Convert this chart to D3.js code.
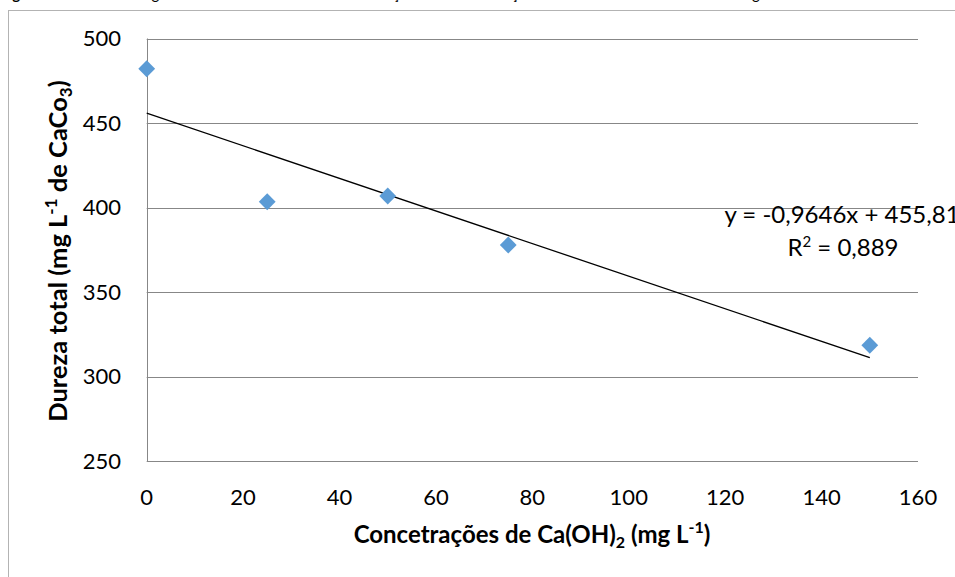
<!DOCTYPE html>
<html>
<head>
<meta charset="utf-8">
<script src="https://cdn.jsdelivr.net/npm/d3@7"></script>
<style>
  body { margin: 0; background: #fff; }
  svg { display: block; font-family: Lato, "Open Sans", sans-serif; }
</style>
</head>
<body>
<script>
// Width and height
var w = 955;
var h = 577;

// Data
var concentrations = [0, 25, 50, 75, 150];
var hardness = [482.1, 403.4, 406.8, 377.8, 318.5];
var xTicks = [0, 20, 40, 60, 80, 100, 120, 140, 160];
var yTicks = [250, 300, 350, 400, 450, 500];
var slope = -0.9646;
var intercept = 455.81;
var trendRange = [0, 150];

var svg = d3.select("body")
    .append("svg")
    .attr("width", w)
    .attr("height", h);

// caption cut off at the top of the page
svg.append("text")
    .attr("x", 0)
    .attr("y", -1)
    .style("font-size", "15px")
    .html("<tspan font-weight='bold'>Figura 6</tspan> - Análise de regressão linear da dureza total em função das concentrações de cal hidratada adicionadas à água");

// outer chart frame
svg.append("rect")
    .attr("x", 8.5)
    .attr("y", 10.5)
    .attr("width", 1000)
    .attr("height", 700)
    .style("fill", "none")
    .style("stroke", "#b3b3b3");

// scales
var x = d3.scaleLinear().domain([0, 160]).range([146.7, 918]);
var y = d3.scaleLinear().domain([250, 500]).range([461, 38.5]);

// horizontal gridlines
svg.append("g")
    .selectAll("line")
    .data(yTicks)
    .enter()
    .append("line")
    .attr("x1", x(0))
    .attr("x2", x(160))
    .attr("y1", function (d) { return Math.round(y(d)) + 0.5; })
    .attr("y2", function (d) { return Math.round(y(d)) + 0.5; })
    .style("stroke", "#878787")
    .style("stroke-width", 1);

// vertical axis line
svg.append("line")
    .attr("x1", Math.round(x(0)) + 0.5)
    .attr("x2", Math.round(x(0)) + 0.5)
    .attr("y1", y(500))
    .attr("y2", y(250))
    .style("stroke", "#878787");

// tick labels
svg.append("g")
    .selectAll("text")
    .data(yTicks)
    .enter()
    .append("text")
    .attr("x", 121)
    .attr("y", function (d) { return y(d); })
    .attr("dy", "0.36em")
    .attr("text-anchor", "end")
    .style("font-size", "22px")
    .text(function (d) { return d; });

svg.append("g")
    .selectAll("text")
    .data(xTicks)
    .enter()
    .append("text")
    .attr("x", function (d) { return x(d); })
    .attr("y", 505)
    .attr("text-anchor", "middle")
    .style("font-size", "22px")
    .text(function (d) { return d; });

// trendline
svg.append("line")
    .attr("x1", x(trendRange[0]))
    .attr("y1", y(slope * trendRange[0] + intercept))
    .attr("x2", x(trendRange[1]))
    .attr("y2", y(slope * trendRange[1] + intercept))
    .style("stroke", "#000")
    .style("stroke-width", 1.3);

// diamond markers
var diamond = d3.symbol().type(d3.symbolDiamond2).size(180);
svg.append("g")
    .selectAll("path")
    .data(concentrations)
    .enter()
    .append("path")
    .attr("d", diamond)
    .attr("transform", function (d, i) {
        return "translate(" + x(d) + "," + y(hardness[i]) + ")";
    })
    .style("fill", "#5b9bd5");

// equation label
svg.append("text")
    .attr("x", 842)
    .attr("y", 223)
    .attr("text-anchor", "middle")
    .style("font-size", "24px")
    .text("y = -0,9646x + 455,81");

svg.append("text")
    .attr("x", 843)
    .attr("y", 256)
    .attr("text-anchor", "middle")
    .style("font-size", "24px")
    .html("R<tspan font-size='15px' dy='-9'>2</tspan><tspan dy='9'> = 0,889</tspan>");

// axis titles
svg.append("text")
    .attr("x", 532)
    .attr("y", 543)
    .attr("text-anchor", "middle")
    .style("font-size", "24px")
    .style("font-weight", "bold")
    .html("Concetrações de Ca(OH)<tspan font-size='16px' dy='5'>2</tspan><tspan dy='-5'> (mg L</tspan><tspan font-size='16px' dy='-10'>-1</tspan><tspan dy='10'>)</tspan>");

svg.append("text")
    .attr("transform", "translate(67,251) rotate(-90)")
    .attr("text-anchor", "middle")
    .style("font-size", "25.5px")
    .style("font-weight", "bold")
    .html("Dureza total (mg L<tspan font-size='17px' dy='-10'>-1</tspan><tspan dy='10'> de CaCo</tspan><tspan font-size='17px' dy='5'>3</tspan><tspan dy='-5'>)</tspan>");
</script>
</body>
</html>
